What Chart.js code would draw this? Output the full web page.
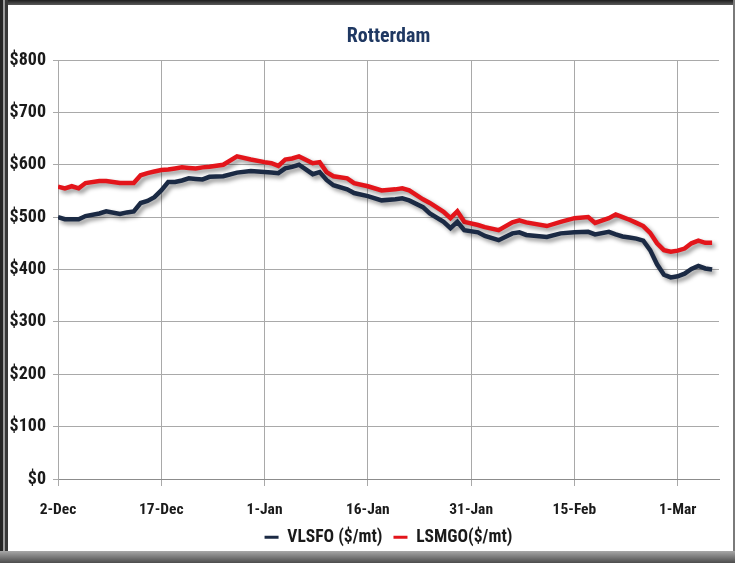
<!DOCTYPE html>
<html>
<head>
<meta charset="utf-8">
<title>Rotterdam</title>
<script src="https://cdn.jsdelivr.net/npm/chart.js@4/dist/chart.umd.min.js"></script>
<style>
  html, body { margin: 0; padding: 0; }
  body { width: 735px; height: 563px; position: relative; overflow: hidden; background: #ffffff; }
  .edge { position: absolute; z-index: 2; }
  #wrap { position: absolute; left: 9px; top: 6px; width: 724px; height: 550px; z-index: 1; }
</style>
</head>
<body>
<!-- window frame around the chart -->
<div class="edge" style="left:0;top:0;width:735px;height:5px;background:linear-gradient(#1e1e1e,#5a5a5a);"></div>
<div class="edge" style="left:0;top:0;width:3px;height:563px;background:#262626;"></div>
<div class="edge" style="left:3px;top:0;width:2px;height:563px;background:#9c9c9c;"></div>
<div class="edge" style="left:5px;top:0;width:3px;height:563px;background:#383838;"></div>
<div class="edge" style="left:733px;top:0;width:2px;height:563px;background:#7a7a7a;"></div>
<div class="edge" style="left:0;top:551px;width:735px;height:12px;background:linear-gradient(#a8a8a8,#4c4c4c);"></div>
<div id="wrap"><canvas id="chart"></canvas></div>
<script>
// Days counted from 2-Dec
const tickDays = [0, 15, 30, 45, 60, 75, 90];
const tickLabels = ['2-Dec', '17-Dec', '1-Jan', '16-Jan', '31-Jan', '15-Feb', '1-Mar'];

const dayOffsets = [0, 1, 2, 3, 4, 6, 7, 9, 10, 11, 12, 13, 14, 15, 16, 17, 18, 19, 20, 21, 22, 24, 26, 28, 30, 31, 32, 33, 34, 35, 37, 38, 39, 40, 42, 43, 45, 47, 49, 50, 51, 53, 54, 56, 57, 58, 59, 61, 62, 64, 66, 67, 68, 71, 73, 75, 77, 78, 80, 81, 82, 83, 84, 85, 86, 87, 88, 89, 90, 91, 92, 93, 94, 95];
const vlsfo = [500, 496, 496, 496, 502, 507, 511, 506, 509, 511, 527, 531, 538, 551, 567, 567, 570, 574, 573, 572, 577, 578, 585, 588, 586, 585, 584, 593, 596, 600, 582, 586, 571, 561, 553, 546, 540, 532, 534, 536, 532, 519, 507, 491, 479, 491, 475, 471, 464, 456, 469, 471, 466, 462, 469, 471, 472, 467, 472, 467, 463, 461, 459, 455, 437, 410, 390, 385, 387, 392, 401, 407, 402, 400];
const lsmgo = [558, 555, 559, 555, 565, 569, 569, 565, 565, 565, 580, 584, 587, 590, 591, 593, 595, 594, 593, 595, 596, 600, 616, 610, 605, 603, 598, 610, 612, 616, 603, 605, 586, 578, 574, 565, 559, 551, 553, 555, 551, 534, 527, 510, 498, 511, 491, 485, 481, 475, 490, 494, 490, 483, 491, 498, 500, 489, 498, 505, 500, 495, 489, 483, 470, 450, 437, 434, 436, 440, 450, 455, 451, 451];

const toPoints = (vals) => vals.map((v, i) => ({ x: dayOffsets[i], y: v }));

const FONT = "'Liberation Sans Narrow', 'Arial Narrow', 'Roboto Condensed', 'DejaVu Sans Condensed', sans-serif";

// soft drop shadow under the series lines
const lineShadow = {
  id: 'lineShadow',
  beforeDatasetsDraw(chart) {
    const ctx = chart.ctx;
    ctx.save();
    ctx.shadowColor = 'rgba(0,0,0,0.42)';
    ctx.shadowOffsetX = 3;
    ctx.shadowOffsetY = 3;
    ctx.shadowBlur = 4;
  },
  afterDatasetsDraw(chart) {
    chart.ctx.restore();
  }
};

new Chart(document.getElementById('chart'), {
  type: 'line',
  data: {
    datasets: [
      {
        label: 'VLSFO ($/mt)',
        data: toPoints(vlsfo),
        borderColor: '#1b2a44',
        backgroundColor: '#1b2a44',
        borderWidth: 4.5,
        pointRadius: 0,
        tension: 0
      },
      {
        label: 'LSMGO($/mt)',
        data: toPoints(lsmgo),
        borderColor: '#e3151b',
        backgroundColor: '#e3151b',
        borderWidth: 4.5,
        pointRadius: 0,
        tension: 0
      }
    ]
  },
  options: {
    responsive: true,
    maintainAspectRatio: false,
    animation: false,
    layout: { padding: { left: 0, right: 14, top: 0, bottom: 0 } },
    plugins: {
      title: {
        display: true,
        fullSize: false,
        text: 'Rotterdam',
        color: '#1f3862',
        font: { family: FONT, size: 20, weight: 'bold' },
        padding: { top: 19, bottom: 11 }
      },
      legend: {
        position: 'bottom',
        fullSize: false,
        labels: {
          color: '#1a1a1a',
          font: { family: FONT, size: 17.5, weight: 'bold' },
          usePointStyle: true,
          pointStyle: 'line',
          pointStyleWidth: 14,
          padding: 11,
          generateLabels(chart) {
            return chart.data.datasets.map((ds, i) => ({
              text: ds.label,
              fillStyle: ds.borderColor,
              strokeStyle: ds.borderColor,
              lineWidth: 3,
              pointStyle: 'line',
              fontColor: '#1a1a1a',
              hidden: !chart.isDatasetVisible(i),
              datasetIndex: i
            }));
          }
        }
      },
      tooltip: { enabled: false }
    },
    scales: {
      x: {
        type: 'linear',
        min: 0,
        max: 96,
        afterBuildTicks(scale) {
          scale.ticks = tickDays.map(v => ({ value: v }));
        },
        ticks: {
          autoSkip: false,
          maxRotation: 0,
          padding: 0,
          color: '#1a1a1a',
          font: { family: FONT, size: 15.5, weight: 'bold', lineHeight: 1 },
          callback(value) {
            const i = tickDays.indexOf(value);
            return i >= 0 ? tickLabels[i] : '';
          }
        },
        // long tick slot for label spacing, only the first 6px of it is drawn
        grid: { color: '#a9a9a9', lineWidth: 1, tickLength: 23, tickBorderDash: [6, 60] },
        border: { color: '#8c8c8c', width: 1 }
      },
      y: {
        min: 0,
        max: 800,
        afterFit(scale) { scale.width = 49; },
        ticks: {
          stepSize: 100,
          padding: 7,
          color: '#1a1a1a',
          font: { family: FONT, size: 18, weight: 'bold' },
          callback(value) { return '$' + value; }
        },
        grid: { color: '#a9a9a9', lineWidth: 1, tickLength: 5 },
        border: { color: '#a9a9a9', width: 1 }
      }
    }
  },
  plugins: [lineShadow]
});
</script>
</body>
</html>
